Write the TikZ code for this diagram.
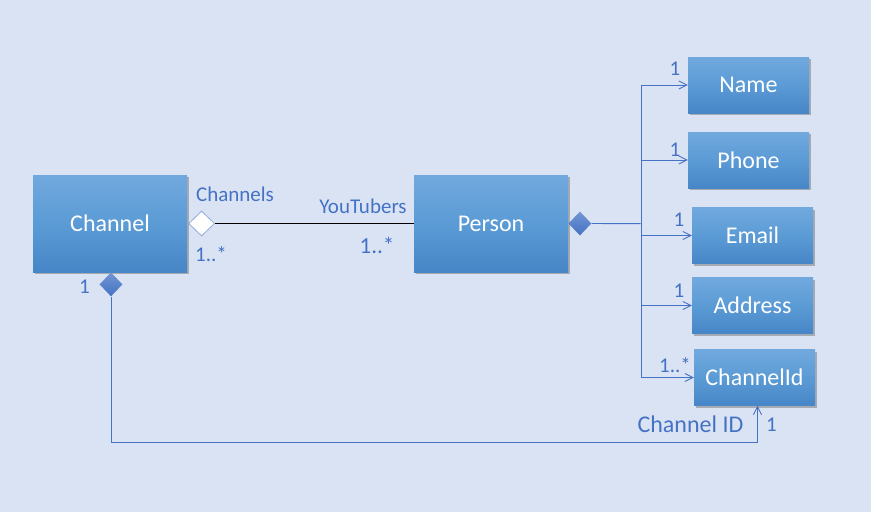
\documentclass[tikz,border=0pt]{standalone}
\usepackage{fontspec}
\setmainfont{Carlito}
\usepackage{tikz}
\usetikzlibrary{calc,positioning,arrows.meta,shapes.geometric,shadows}
\definecolor{bgblue}{HTML}{DAE3F3}
\definecolor{boxtop}{HTML}{71A9DE}
\definecolor{boxmid}{HTML}{5B9BD5}
\definecolor{boxbot}{HTML}{4786C7}
\definecolor{umlblue}{HTML}{4472C4}
\definecolor{dialine}{HTML}{8FAADC}
\tikzset{
  >={Straight Barb[length=8pt,width=8pt]},
  classbox/.style={
    rectangle,
    top color=boxtop,
    bottom color=boxbot,
    middle color=boxmid,
    text=white,
    font=\fontsize{24}{28}\selectfont,
    inner sep=0pt,
    drop shadow={shadow xshift=2pt,shadow yshift=-2pt,fill=black!60,opacity=.45},
    text centered},
  bigbox/.style={classbox, minimum width=154pt, minimum height=97pt},
  attrbox/.style={classbox, minimum width=121pt, minimum height=56pt},
  hollowdia/.style={
    diamond, inner sep=0pt,
    minimum width=26pt, minimum height=25pt,
    fill=white, draw=dialine, line width=0.8pt},
  filldia/.style={
    diamond, inner sep=0pt,
    minimum width=23pt, minimum height=24pt,
    top color=umlblue!75!white, bottom color=umlblue},
  attrline/.style={draw=umlblue, line width=0.9pt, ->},
  mult/.style={text=umlblue, inner sep=0pt, font=\fontsize{21}{24}\selectfont},
}

\begin{document}
\begin{tikzpicture}[x=1pt,y=-1pt]

    \fill[bgblue] (0,0) rectangle (871,512);
    \useasboundingbox (0,0) rectangle (871,512);

    % classes
    \node[bigbox] (channel) at (110,223.5) {Channel};
    \node[bigbox] (person)  at (491,223.5) {Person};

    \node[attrbox] (name)    at (748.5,85)    {Name};
    \node[attrbox] (phone)   at (748.5,160)   {Phone};
    \node[attrbox] (email)   at (752.5,235.5) {Email};
    \node[attrbox] (address) at (752.5,305.5) {Address};
    \node[attrbox] (chid)    at (754.5,377.5) {ChannelId};

    % aggregation between channel and person
    \node[hollowdia, right=1pt of channel] (chdia) {};
    \draw[black, line width=0.8pt] (chdia.east) -- (person.west);

    % composition person -> attributes
    \node[filldia, right=0pt of person] (pdia) {};
    \coordinate (split) at (641,223.7);
    \draw[umlblue, line width=0.9pt] (pdia.east) -- (split);
    \draw[attrline] (split) |- (name.west);
    \draw[attrline] (split) |- (phone.west);
    \draw[attrline] (split) |- (email.west);
    \draw[attrline] (split) |- (address.west);
    \draw[attrline] (split) |- (chid.west);

    % composition channel -> channel id
    \node[filldia, below=0pt of channel.south, xshift=1pt] (cdia) {};
    \draw[attrline] (cdia.south) -- ++(0,146) -| ([xshift=3pt]chid.south);

    % labels
    \node[mult] (lchannels)  at (235,194)   {Channels};
    \node[mult] (lchmult)    at (211,254)   {1..*};
    \node[mult] (lyoutubers) at (363,206)   {YouTubers};
    \node[mult, font=\fontsize{23}{26}\selectfont] (lytmult) at (377,245) {1..*};
    \node[mult] (lcdia)      at (84.5,286.5) {1};

    \node[mult] (lname)    at (675,69)    {1};
    \node[mult] (lphone)   at (675,149.5) {1};
    \node[mult] (lemail)   at (679,219.5) {1};
    \node[mult] (laddress) at (679,291)   {1};
    \node[mult] (lchid)    at (675,365)   {1..*};

    \node[mult, font=\fontsize{24}{28}\selectfont] (lchannelid) at (690.5,424.5) {Channel ID};
    \node[mult] (lchidone) at (771.5,425) {1};

\end{tikzpicture}
\end{document}
